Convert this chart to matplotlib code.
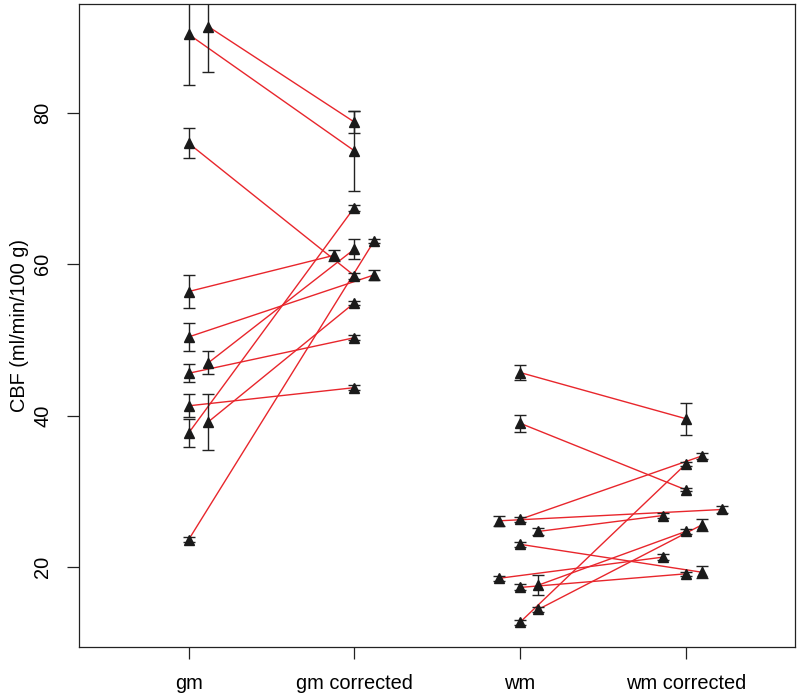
import numpy as np
import matplotlib
matplotlib.use("Agg")
from matplotlib import pyplot as plt

plt.rcParams['font.family'] = ['Liberation Sans', 'DejaVu Sans']

categories = ['gm', 'gm corrected', 'wm', 'wm corrected']

# grey matter, per subject: raw and corrected CBF with error
gm = [90.4, 91.4, 76.0, 56.4, 50.4, 47.0, 45.6, 41.3, 37.7, 39.2, 23.6]
gm_err = [6.7, 6.0, 2.0, 2.2, 1.8, 1.5, 1.2, 1.5, 1.8, 3.7, 0.3]
gm_corr = [75.0, 78.8, 58.5, 61.2, 58.6, 62.0, 50.3, 43.7, 67.5, 54.9, 63.1]
gm_corr_err = [5.3, 1.4, 0.4, 0.7, 0.7, 1.3, 0.3, 0.3, 0.4, 0.3, 0.3]

# white matter
wm = [45.7, 39.0, 26.1, 26.3, 24.7, 23.0, 18.5, 17.3, 17.6, 14.4, 12.7]
wm_err = [1.05, 1.1, 0.7, 0.3, 0.5, 0.3, 0.3, 0.4, 1.35, 0.3, 0.3]
wm_corr = [39.6, 30.2, 27.6, 34.7, 26.8, 19.3, 21.3, 19.1, 24.7, 25.6, 33.6]
wm_corr_err = [2.1, 0.2, 0.4, 0.4, 0.3, 0.8, 0.4, 0.3, 0.3, 0.8, 0.3]

# horizontal jitter of each point around its category
gm_jit = [0, 0.12, 0, 0, 0, 0.12, 0, 0, 0, 0.12, 0]
gm_corr_jit = [0, 0, 0, -0.12, 0.12, 0, 0, 0, 0, 0, 0.12]
wm_jit = [0, 0, -0.13, 0, 0.11, 0, -0.13, 0, 0.11, 0.11, 0]
wm_corr_jit = [0, 0, 0.22, 0.1, -0.14, 0.1, -0.14, 0, 0, 0.1, 0]

fig = plt.figure(figsize=(8, 6.99), dpi=100)
ax = fig.add_axes([0.099, 0.0744, 0.895, 0.9199])

groups = [
    (1, gm, gm_err, gm_jit, 2, gm_corr, gm_corr_err, gm_corr_jit),
    (3, wm, wm_err, wm_jit, 4, wm_corr, wm_corr_err, wm_corr_jit),
]

for xa, ya, ea, ja, xb, yb, eb, jb in groups:
    xa_pts = xa + np.array(ja)
    xb_pts = xb + np.array(jb)
    for i in range(len(ya)):
        ax.plot([xa_pts[i], xb_pts[i]], [ya[i], yb[i]], color='#e8262c', lw=1.0, zorder=2)
    for xs, ys, es in [(xa_pts, ya, ea), (xb_pts, yb, eb)]:
        ax.errorbar(xs, ys, yerr=es, fmt='^', color='#1a1a1a', ecolor='#222222',
                    elinewidth=1.0, capsize=4, capthick=1.0, markersize=6.5, zorder=3)

ax.set_xlim(0.34, 4.66)
ax.set_ylim(9.43, 94.4)
ax.set_xticks([1, 2, 3, 4])
ax.set_xticklabels(categories)
ax.set_yticks([20, 40, 60, 80])
ax.set_yticklabels(['20', '40', '60', '80'], rotation=90, va='center')
ax.tick_params(axis='both', length=8.5, width=0.9, labelsize=14.4, pad=11, color='#222222')
ax.set_ylabel('CBF (ml/min/100 g)', fontsize=14.4, labelpad=3)
for s in ax.spines.values():
    s.set_linewidth(0.9)
    s.set_color('#222222')

fig.savefig('out.png', dpi=100)
